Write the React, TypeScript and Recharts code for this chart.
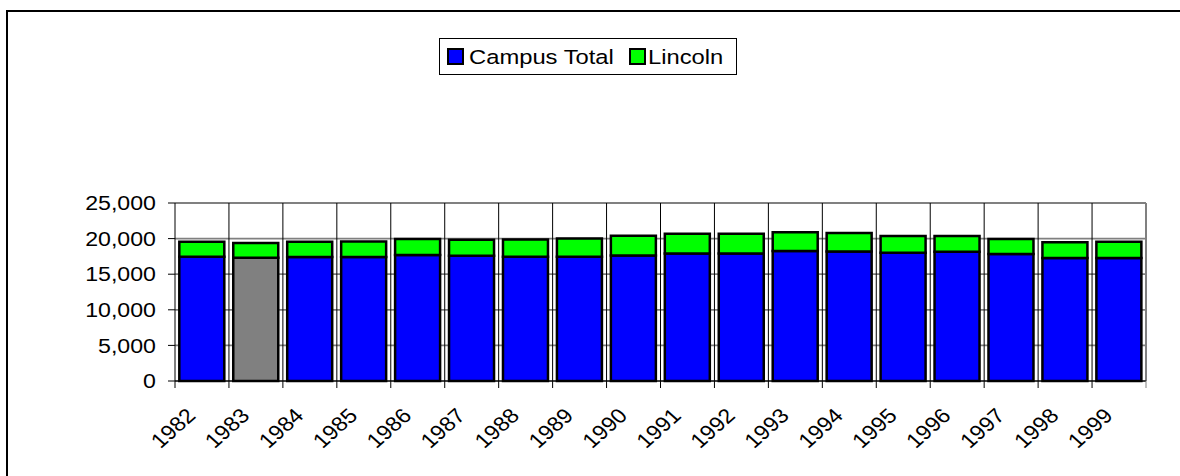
import React from 'react';
import { BarChart, Bar, XAxis, YAxis, CartesianGrid, Legend, Cell } from 'recharts';

const years = ['1982', '1983', '1984', '1985', '1986', '1987', '1988', '1989', '1990', '1991', '1992', '1993', '1994', '1995', '1996', '1997', '1998', '1999'];
const campusTotal = [17450, 17300, 17400, 17400, 17690, 17590, 17450, 17450, 17640, 17920, 17920, 18270, 18200, 18010, 18150, 17830, 17260, 17260];
const lincoln = [2100, 2080, 2160, 2210, 2250, 2250, 2440, 2580, 2760, 2760, 2760, 2630, 2580, 2350, 2210, 2110, 2210, 2300];
const yTicks = [0, 5000, 10000, 15000, 20000, 25000];
const seriesNames = ['Campus Total', 'Lincoln'];
const highlightYear = '1983';

const BLUE = '#0000FF';
const GREEN = '#00FF00';
const GRAY = '#808080';
const FONT = '"Liberation Sans", Arial, sans-serif';
const FS = 20.5;
const SX = 1.13;

const W = 1180;
const H = 476;
const MARGIN = { top: 203, right: 34, bottom: 35, left: 95 };
const Y_W = 80;
const X_H = 60;
const PLOT_LEFT = MARGIN.left + Y_W;
const PLOT_W = W - PLOT_LEFT - MARGIN.right;
const BAND = PLOT_W / years.length;

const data = years.map((y, i) => ({ year: y, campus: campusTotal[i], lincoln: lincoln[i] }));

const XTick = (props: any) => {
  const { x, y, payload, index } = props;
  const half = BAND / 2;
  return (
    <g>
      <line x1={x - half} x2={x - half} y1={y} y2={y + 7} stroke="#000" strokeWidth={1} />
      {index === years.length - 1 && (
        <line x1={x + half} x2={x + half} y1={y} y2={y + 7} stroke={GRAY} strokeWidth={1} />
      )}
      <g transform={`translate(${x - 5},${y + 36}) scale(${SX},1) rotate(-45)`}>
        <text textAnchor="end" fontSize={FS} fontFamily={FONT} fill="#000">
          {payload.value}
        </text>
      </g>
    </g>
  );
};

const YTick = (props: any) => {
  const { x, y, payload } = props;
  return (
    <g transform={`translate(${x},${y}) scale(${SX},1)`}>
      <text textAnchor="end" dy="0.355em" fontSize={FS} fontFamily={FONT} fill="#000">
        {Number(payload.value).toLocaleString('en-US')}
      </text>
    </g>
  );
};

const LegendContent = () => {
  const items = [
    { name: seriesNames[0], color: BLUE, sq: 8, tx: 30 },
    { name: seriesNames[1], color: GREEN, sq: 190, tx: 209 },
  ];
  return (
    <svg width={298} height={37} style={{ display: 'block' }}>
      <rect x={0.5} y={0.5} width={297} height={36} fill="#fff" stroke="#000" strokeWidth={1} />
      {items.map((it) => (
        <g key={it.name}>
          <rect x={it.sq + 1} y={11} width={15} height={15} fill={it.color} stroke="#000" strokeWidth={2} />
          <g transform={`translate(${it.tx},26) scale(1.16,1)`}>
            <text fontSize={FS} fontFamily={FONT} fill="#000">{it.name}</text>
          </g>
        </g>
      ))}
    </svg>
  );
};

export default function App() {
  const innerBoundaries = () => years.slice(1).map((_, i) => PLOT_LEFT + (i + 1) * BAND);
  const rightEdge = () => [PLOT_LEFT + PLOT_W];
  return (
    <div style={{ position: 'fixed', left: 0, top: 0, width: W, height: H, overflow: 'hidden', background: '#fff' }}>
      <svg width={W} height={H} style={{ position: 'absolute', left: 0, top: 0 }}>
        <path d={`M7 ${H + 5} L7 11 L${W + 5} 11`} fill="none" stroke="#000" strokeWidth={2} />
      </svg>
      <div style={{ position: 'absolute', left: 0, top: 0 }}>
        <BarChart width={W} height={H} data={data} margin={MARGIN} barCategoryGap="8%">
          <CartesianGrid vertical={false} stroke={GRAY} strokeWidth={1.8} />
          <CartesianGrid horizontal={false} stroke="#000" strokeWidth={1} verticalCoordinatesGenerator={innerBoundaries} />
          <CartesianGrid horizontal={false} stroke={GRAY} strokeWidth={2} verticalCoordinatesGenerator={rightEdge} />
          <XAxis
            dataKey="year"
            height={X_H}
            interval={0}
            tickLine={false}
            tickSize={0}
            tickMargin={0}
            axisLine={{ stroke: '#000', strokeWidth: 1 }}
            tick={<XTick />}
          />
          <YAxis
            width={Y_W}
            domain={[0, 25000]}
            ticks={yTicks}
            interval={0}
            tickSize={7}
            tickMargin={12}
            tickLine={{ stroke: '#000' }}
            axisLine={{ stroke: '#000', strokeWidth: 1 }}
            tick={<YTick />}
          />
          <Legend
            layout="horizontal"
            verticalAlign="middle"
            align="center"
            wrapperStyle={{ top: 38, left: 439, width: 298, height: 37 }}
            content={<LegendContent />}
          />
          <Bar dataKey="campus" name={seriesNames[0]} stackId="a" fill={BLUE} stroke="#000" strokeWidth={2.5} isAnimationActive={false}>
            {data.map((d) => (
              <Cell key={d.year} fill={d.year === highlightYear ? GRAY : BLUE} />
            ))}
          </Bar>
          <Bar dataKey="lincoln" name={seriesNames[1]} stackId="a" fill={GREEN} stroke="#000" strokeWidth={2.5} isAnimationActive={false} />
        </BarChart>
      </div>
    </div>
  );
}
